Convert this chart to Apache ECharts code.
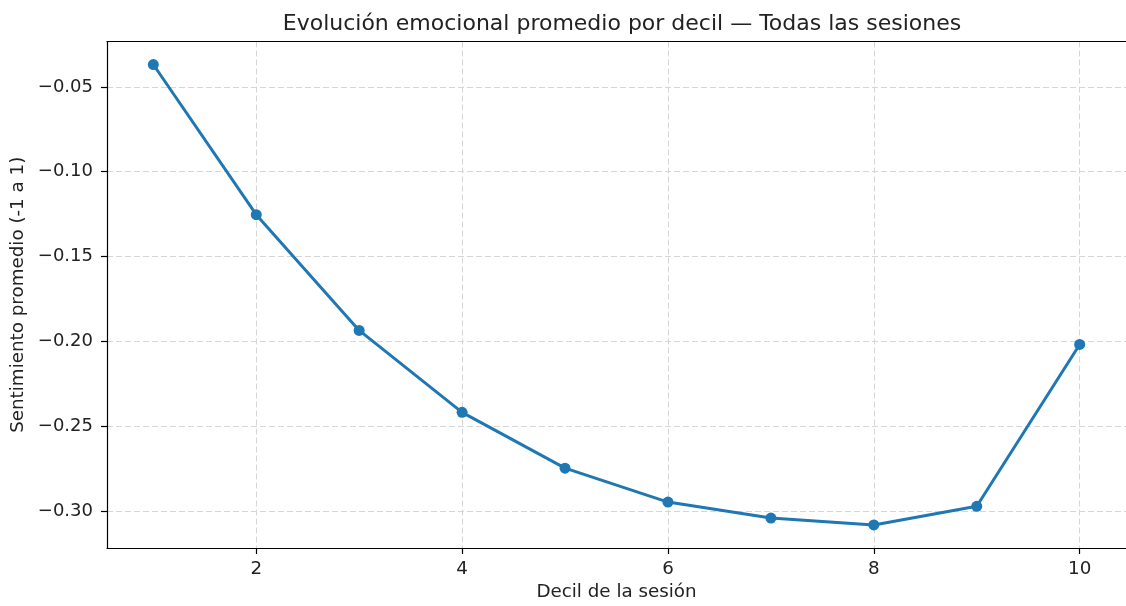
<!DOCTYPE html>
<html>
<head>
<meta charset="utf-8">
<script src="https://cdn.jsdelivr.net/npm/echarts@6/dist/echarts.min.js"></script>
<style>
html,body{margin:0;padding:0;background:#fff;}
#chart{width:1126px;height:606px;}
</style>
</head>
<body>
<div id="chart"></div>
<script>
// Data
const deciles = [1, 2, 3, 4, 5, 6, 7, 8, 9, 10];
const sentimiento = [-0.0368, -0.1253, -0.1935, -0.2418, -0.2747, -0.2947, -0.3041, -0.3082, -0.2972, -0.2018];
const xTicks = [2, 4, 6, 8, 10];
const yTicks = [-0.30, -0.25, -0.20, -0.15, -0.10, -0.05];

const titleText = 'Evolución emocional promedio por decil — Todas las sesiones';
const xLabel = 'Decil de la sesión';
const yLabel = 'Sentimiento promedio (-1 a 1)';

const ymin = Math.min(...sentimiento), ymax = Math.max(...sentimiento);
const ypad = (ymax - ymin) * 0.05;
const xpad = (deciles[deciles.length - 1] - deciles[0]) * 0.05;
const xMin = deciles[0] - xpad, xMax = deciles[deciles.length - 1] + xpad;

const font = 'DejaVu Sans';
const txt = '#222';
const chart = echarts.init(document.getElementById('chart'));
chart.setOption({
  animation: false,
  backgroundColor: '#fff',
  title: {
    text: titleText,
    left: 617, top: 8, textAlign: 'center',
    textStyle: { fontFamily: font, fontSize: 22, fontWeight: 'normal', color: txt }
  },
  grid: {
    left: 107, top: 41.5, width: 1022, height: 508, show: false
  },
  xAxis: [{
    type: 'value',
    min: xMin, max: xMax,
    name: xLabel, nameLocation: 'middle', nameGap: 35,
    nameTextStyle: { fontFamily: font, fontSize: 18.3, color: txt },
    axisLine: { show: true, lineStyle: { color: '#000', width: 1.2 } },
    axisTick: { show: true, length: 6, customValues: xTicks, lineStyle: { color: '#000', width: 1.2 } },
    axisLabel: { customValues: xTicks, margin: 12, fontFamily: font, fontSize: 18.3, color: txt },
    splitLine: { show: true, lineStyle: { color: '#d6d6d6', type: [6, 3], width: 1 } }
  }, {
    type: 'value', position: 'top',
    min: xMin, max: xMax,
    axisLine: { show: true, onZero: false, lineStyle: { color: '#000', width: 1.2 } },
    axisTick: { show: false }, axisLabel: { show: false }, splitLine: { show: false }
  }],
  yAxis: {
    type: 'value',
    min: ymin - ypad, max: ymax + ypad,
    name: yLabel, nameLocation: 'middle', nameGap: 78,
    nameTextStyle: { fontFamily: font, fontSize: 18.3, color: txt },
    axisLine: { show: true, lineStyle: { color: '#000', width: 1.2 } },
    axisTick: { show: true, length: 6, customValues: yTicks, lineStyle: { color: '#000', width: 1.2 } },
    axisLabel: {
      customValues: yTicks, margin: 14, fontFamily: font, fontSize: 18, color: txt,
      formatter: v => v.toFixed(2).replace('-', '\u2212')
    },
    splitLine: { show: true, lineStyle: { color: '#d6d6d6', type: [6, 3], width: 1 } }
  },
  series: [{
    type: 'line',
    xAxisIndex: 0,
    data: deciles.map((d, i) => [d, sentimiento[i]]),
    symbol: 'circle', symbolSize: 11,
    itemStyle: { color: '#1f77b4' },
    lineStyle: { color: '#1f77b4', width: 3 }
  }]
});
</script>
</body>
</html>
